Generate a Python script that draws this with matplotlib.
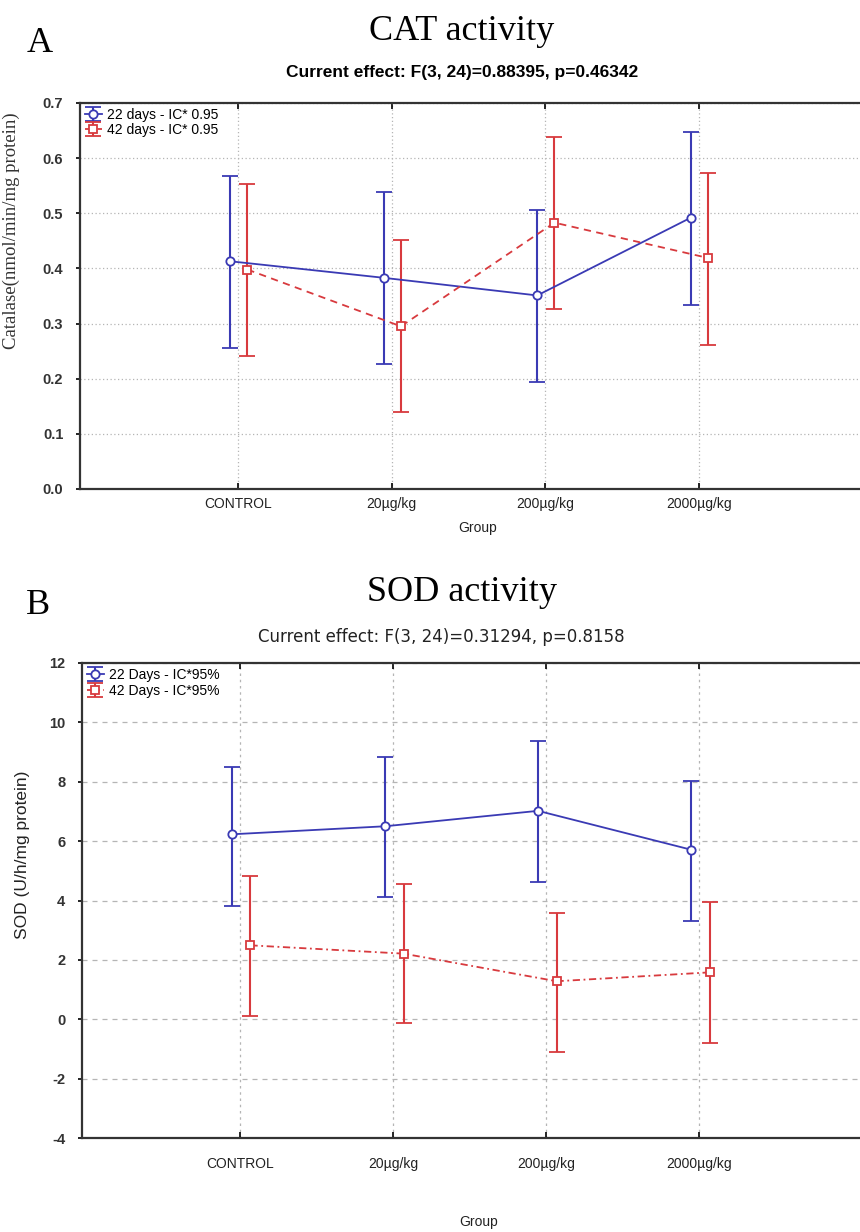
import matplotlib
matplotlib.use("Agg")
import matplotlib.pyplot as plt
import numpy as np

grupos = ["CONTROL", "20µg/kg", "200µg/kg", "2000µg/kg"]

# CAT (panel A)
cat_22_media = [0.413, 0.383, 0.351, 0.492]
cat_22_sup = [0.568, 0.539, 0.506, 0.647]
cat_22_inf = [0.255, 0.227, 0.194, 0.334]
cat_42_media = [0.398, 0.295, 0.483, 0.419]
cat_42_sup = [0.553, 0.451, 0.639, 0.573]
cat_42_inf = [0.241, 0.139, 0.326, 0.261]

# SOD (panel B)
sod_22_media = [6.23, 6.50, 7.02, 5.71]
sod_22_sup = [8.51, 8.84, 9.38, 8.04]
sod_22_inf = [3.83, 4.11, 4.63, 3.31]
sod_42_media = [2.49, 2.21, 1.28, 1.58]
sod_42_sup = [4.83, 4.55, 3.59, 3.94]
sod_42_inf = [0.10, -0.13, -1.09, -0.81]

AZUL = "#3a3ab4"
ROJO = "#d83a3e"
SANS = "Liberation Sans"
SERIF = "Liberation Serif"

plt.rcParams["font.family"] = SANS
plt.rcParams["axes.unicode_minus"] = False


def serie(ax, x, media, sup, inf, color, marcador, estilo, etiqueta):
    media = np.array(media)
    err = [media - np.array(inf), np.array(sup) - media]
    ax.errorbar(x, media, yerr=err, color=color, ecolor=color, linestyle=estilo,
                linewidth=1.3, elinewidth=1.5, capsize=6, capthick=1.5,
                marker=marcador, markersize=6, markerfacecolor="white",
                markeredgecolor=color, markeredgewidth=1.3, label=etiqueta, zorder=3)


def preparar(ax, ylim, yticks, pad_x, grid_h, grid_v):
    x = np.arange(1, len(grupos) + 1)
    ax.set_xlim(-0.03, 5.05)
    ax.set_ylim(*ylim)
    ax.set_yticks(yticks)
    ax.set_xticks(x)
    ax.set_xticklabels(grupos, fontsize=10, color="#222222")
    ax.tick_params(axis="x", direction="in", top=True, length=4, width=1.2, pad=pad_x)
    ax.tick_params(axis="y", direction="out", length=3, width=1.2, pad=9)
    ax.grid(True, axis="y", color="#b5b5b5", linestyle=grid_h, linewidth=0.9)
    ax.grid(True, axis="x", color="#b5b5b5", linestyle=grid_v, linewidth=0.9)
    ax.set_axisbelow(True)
    for s in ["left", "bottom", "top"]:
        ax.spines[s].set_linewidth(1.6)
        ax.spines[s].set_color("#333333")
    ax.spines["right"].set_visible(False)
    return x


def etiquetas_y(ax, textos):
    ax.set_yticklabels(textos, fontsize=10.5, fontweight="bold", color="#333333")


fig = plt.figure(figsize=(8.6, 12.32), dpi=100)
W, H = 860, 1232

# ---------- Panel A ----------
axA = fig.add_axes([80 / W, 1 - 489 / H, 780 / W, (489 - 103) / H])
ticksA = np.arange(0, 0.71, 0.1)
x = preparar(axA, (0, 0.7), ticksA, 6, (0, (1, 2)), (0, (1, 2)))
etiquetas_y(axA, [f"{v:.1f}" for v in ticksA])
axA.set_ylabel("Catalase(nmol/min/mg protein)", fontsize=13.5, family=SERIF, color="#333333")
axA.yaxis.set_label_coords(-0.077, 0.67)
axA.set_xlabel("Group", fontsize=10, color="#222222")
axA.xaxis.set_label_coords(0.51, -0.083)
serie(axA, x - 0.052, cat_22_media, cat_22_sup, cat_22_inf, AZUL, "o", "-", "22 days - IC* 0.95")
serie(axA, x + 0.06, cat_42_media, cat_42_sup, cat_42_inf, ROJO, "s", (0, (4, 3)), "42 days - IC* 0.95")
axA.legend(loc="upper left", frameon=False, fontsize=10, handlelength=1.2,
           labelspacing=0.05, borderaxespad=0.15, handletextpad=0.4,
           borderpad=0.2, bbox_to_anchor=(0.0, 1.0))

fig.text(40 / W, 1 - 43 / H, "A", fontsize=26, family=SERIF, ha="center", va="center")
fig.text(462 / W, 1 - 31 / H, "CAT activity", fontsize=26, family=SERIF, ha="center", va="center")
fig.text(462 / W, 1 - 73 / H, "Current effect: F(3, 24)=0.88395, p=0.46342",
         fontsize=12.5, fontweight="bold", ha="center", va="center")

# ---------- Panel B ----------
axB = fig.add_axes([82 / W, 1 - 1138 / H, 778 / W, (1138 - 663) / H])
ticksB = np.arange(-4, 13, 2)
x = preparar(axB, (-4, 12), ticksB, 14, (0, (4, 4)), (0, (2, 3)))
etiquetas_y(axB, [str(v) for v in ticksB])
axB.set_ylabel("SOD (U/h/mg protein)", fontsize=12.5, color="#222222")
axB.yaxis.set_label_coords(-0.067, 0.596)
axB.set_xlabel("Group", fontsize=10, color="#222222")
axB.xaxis.set_label_coords(0.51, -0.162)
serie(axB, x - 0.052, sod_22_media, sod_22_sup, sod_22_inf, AZUL, "o", "-", "22 Days - IC*95%")
serie(axB, x + 0.07, sod_42_media, sod_42_sup, sod_42_inf, ROJO, "s", (0, (4, 2, 1, 2)), "42 Days - IC*95%")
axB.legend(loc="upper left", frameon=False, fontsize=10, handlelength=1.2,
           labelspacing=0.15, borderaxespad=0.15, handletextpad=0.4,
           borderpad=0.2, bbox_to_anchor=(0.0, 1.0))

fig.text(38 / W, 1 - 606 / H, "B", fontsize=26, family=SERIF, ha="center", va="center")
fig.text(462 / W, 1 - 593 / H, "SOD activity", fontsize=26, family=SERIF, ha="center", va="center")
fig.text(258 / W, 1 - 637 / H, "Current effect: F(3, 24)=0.31294, p=0.8158",
         fontsize=12, family="DejaVu Sans", ha="left", va="center", color="#222222")

fig.savefig("out.png", dpi=100)
